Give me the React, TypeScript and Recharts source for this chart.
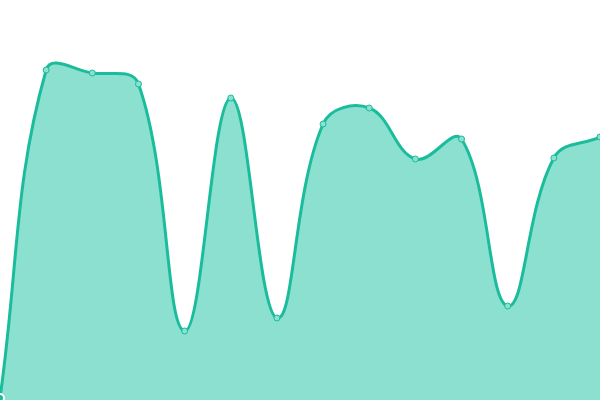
import React from "react";
import { AreaChart, Area, XAxis, YAxis } from "recharts";

const categories = ["1", "2", "3", "4", "5", "6", "7", "8", "9", "10", "11", "12", "13", "14"];
const values = [2, 330, 327, 316, 69, 302, 82, 276, 292, 241, 261, 94, 242, 263];

const data = categories.map((c, i) => ({ name: c, value: values[i] }));

const TENSION = 0.4;

function splineCurve(context: any) {
  let pts: number[][] = [];
  let line: number = NaN;
  return {
    areaStart() {
      line = 0;
    },
    areaEnd() {
      line = NaN;
    },
    lineStart() {
      pts = [];
    },
    point(x: number, y: number) {
      pts.push([+x, +y]);
    },
    lineEnd() {
      const n = pts.length;
      if (n) {
        if (line) context.lineTo(pts[0][0], pts[0][1]);
        else context.moveTo(pts[0][0], pts[0][1]);
        const cps = pts.map((p, i) => {
          const prev = pts[i - 1] || p;
          const next = pts[i + 1] || p;
          const d01 = Math.hypot(p[0] - prev[0], p[1] - prev[1]);
          const d12 = Math.hypot(next[0] - p[0], next[1] - p[1]);
          let s01 = d01 / (d01 + d12);
          let s12 = d12 / (d01 + d12);
          if (isNaN(s01)) s01 = 0;
          if (isNaN(s12)) s12 = 0;
          const fa = TENSION * s01;
          const fb = TENSION * s12;
          return {
            px: p[0] - fa * (next[0] - prev[0]),
            py: p[1] - fa * (next[1] - prev[1]),
            nx: p[0] + fb * (next[0] - prev[0]),
            ny: p[1] + fb * (next[1] - prev[1]),
          };
        });
        for (let i = 1; i < n; i++) {
          context.bezierCurveTo(cps[i - 1].nx, cps[i - 1].ny, cps[i].px, cps[i].py, pts[i][0], pts[i][1]);
        }
      }
      if (line) context.closePath();
      line = 1 - line;
    },
  };
}

export default function App() {
  return (
    <div style={{ position: "absolute", left: 0, top: 0, width: 600, height: 400 }}>
      <AreaChart width={600} height={400} data={data} margin={{ top: 0, right: 0, bottom: 0, left: 0 }}>
        <XAxis dataKey="name" hide />
        <YAxis hide domain={[0, 400]} />
        <Area
          type={splineCurve as any}
          dataKey="value"
          stroke="#1abc9c"
          strokeWidth={3}
          fill="#8be0cf"
          fillOpacity={1}
          dot={{ r: 3, fill: "#8be0cf", stroke: "#1abc9c", strokeWidth: 1, fillOpacity: 1 }}
          isAnimationActive={false}
        />
      </AreaChart>
    </div>
  );
}
